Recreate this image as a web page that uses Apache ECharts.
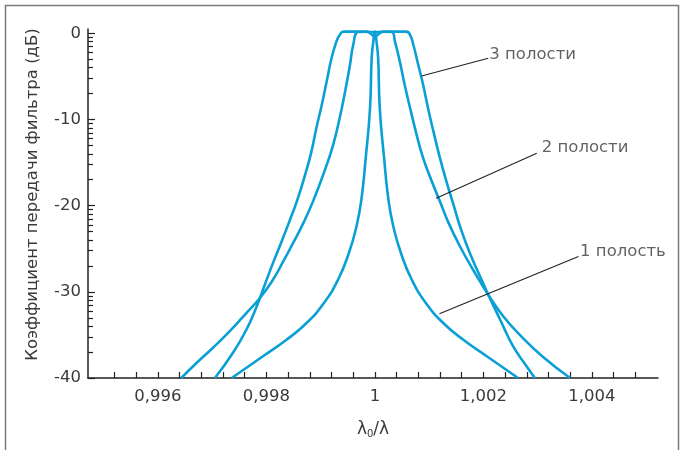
<!DOCTYPE html>
<html>
<head>
<meta charset="utf-8">
<script src="https://cdn.jsdelivr.net/npm/echarts@6/dist/echarts.min.js"></script>
<style>
html,body{margin:0;padding:0;background:#fff;}
#c{width:682px;height:450px;}
</style>
</head>
<body>
<div id="c"></div>
<script>
// ---- data (x = λ0/λ, y = dB) ----
var cavity1 = [
  [0.99736,-40],[0.99793,-37.5],[0.99837,-35.56],[0.99874,-33.62],[0.99906,-31.3],
  [0.99932,-28.6],[0.99952,-25.5],[0.99966,-22.42],[0.99975,-19.33],[0.99983,-14.49],
  [0.99991,-8.7],[0.99994,-2.9],[0.99997,-1.0],[1.0,0.2],[1.00003,-1.0],
  [1.00006,-2.9],[1.00009,-8.7],[1.00017,-14.49],[1.00025,-19.33],[1.00034,-22.42],
  [1.00048,-25.5],[1.00068,-28.6],[1.00094,-31.3],[1.00126,-33.62],[1.00163,-35.56],
  [1.00207,-37.5],[1.00264,-40]
];
var cavity2 = [
  [0.99643,-40],[0.99671,-38.26],[0.99701,-36.52],[0.99732,-34.6],[0.99763,-32.46],
  [0.99788,-30.72],[0.99812,-28.6],[0.99831,-26.48],[0.99849,-24.35],[0.99868,-22.03],
  [0.99887,-19.33],[0.99909,-15.65],[0.99923,-12.95],[0.99935,-9.86],[0.99945,-6.77],
  [0.99954,-3.68],[0.9996,-1.36],[0.99969,0.15],[0.99985,0.2],[1.0,-0.3],
  [1.00015,0.2],[1.00031,0.15],[1.00037,-0.97],[1.00046,-3.29],[1.00055,-5.99],
  [1.00065,-8.7],[1.00077,-11.79],[1.00089,-14.49],[1.00105,-17.2],[1.0012,-19.52],
  [1.00136,-22.03],[1.00157,-24.74],[1.00181,-27.44],[1.00209,-30.34],[1.00237,-32.86],
  [1.0027,-35.18],[1.00309,-37.5],[1.0036,-40]
];
var cavity3 = [
  [0.99705,-40],[0.99738,-37.1],[0.99763,-34.4],[0.99782,-31.7],[0.99797,-29.18],
  [0.99812,-26.67],[0.99828,-24.16],[0.99842,-21.88],[0.99857,-19.33],[0.99873,-16.05],
  [0.99883,-13.73],[0.99892,-11.01],[0.99902,-8.31],[0.99911,-5.61],[0.9992,-2.9],
  [0.99929,-0.97],[0.99935,-0.2],[0.99942,0.2],[0.9997,0.2],[1.0,0.15],
  [1.0003,0.2],[1.00058,0.2],[1.00065,-0.2],[1.00071,-1.36],[1.0008,-3.68],
  [1.00089,-5.99],[1.00098,-8.7],[1.00108,-11.41],[1.0012,-14.49],[1.00132,-17.2],
  [1.00145,-19.9],[1.00157,-22.42],[1.00175,-25.5],[1.00194,-28.22],[1.00209,-30.34],
  [1.00231,-33.24],[1.00255,-36.34],[1.0028,-38.66],[1.00295,-40]
];
// annotations: leader line start (on curve), end, and text anchor
var annotTexts = ['3 полости','2 полости','1 полость'];
var leaderStart = [[1.00086,-4.95],[1.00113,-19.13],[1.00119,-32.55]];
var leaderEnd   = [[1.00209,-2.9],[1.002985,-13.91],[1.003753,-25.9]];
var textAnchor  = [[1.00211,-2.43],[1.003077,-13.24],[1.003784,-25.3]];
// ticks
var xTickValues = [0.9952,0.9956,0.996,0.9964,0.9968,0.9972,0.9976,0.998,0.9984,0.9988,
  0.9992,0.9996,1,1.0004,1.0008,1.0012,1.0016,1.002,1.0024,1.0028,1.0032,1.0036,1.004,1.0044,1.0048];
var xLabelValues = [0.996,0.998,1,1.002,1.004];
var yMajorTicks = [0,-10,-20,-30,-40];
var yLabelValues = [0,-10,-20,-30,-40];
var yMinorTicks = [
  -0.458,-0.969,-1.549,-2.218,-3.010,-3.979,-5.229,-6.990,
  -10.458,-10.969,-11.549,-12.218,-13.010,-13.979,-15.229,-16.990,
  -20.458,-20.969,-21.549,-22.218,-23.010,-23.979,-25.229,-26.990,
  -30.458,-30.969,-31.549,-32.218,-33.010,-33.979,-35.229,-36.990
];

var FONT = '"DejaVu Sans", sans-serif';
var TXT = '#3a3a3a';
var CURVE = '#0aa0d6';
var chart = echarts.init(document.getElementById('c'), null, {renderer:'canvas'});

function curveSeries(name, data){
  return {
    name:name, type:'line', data:data, xAxisIndex:0, yAxisIndex:0,
    showSymbol:false, symbol:'none', smooth:0.5,
    lineStyle:{color:CURVE, width:2.6}, z:3, silent:true
  };
}

var leaderData = leaderStart.map(function(s,i){
  return [{coord:s},{coord:leaderEnd[i]}];
});

var option = {
  animation:false,
  backgroundColor:'#fff',
  graphic:[{
    type:'rect', shape:{x:5.5,y:5.5,width:673,height:460},
    style:{fill:'none', stroke:'#7a7a7a', lineWidth:1.5}, silent:true
  }],
  grid:{left:88, right:24, top:29, bottom:72, containLabel:false},
  xAxis:[{
    type:'value', min:0.99471, max:1.00522,
    name:'{a|λ}{s|0}{a|/λ}', nameLocation:'middle', nameGap:42,
    nameTextStyle:{rich:{
      a:{fontFamily:FONT, fontSize:17, color:TXT},
      s:{fontFamily:FONT, fontSize:10, color:TXT, padding:[9,0,0,0]}
    }},
    axisLine:{show:true, onZero:false, lineStyle:{color:'#222', width:1.5}},
    axisTick:{show:true, inside:true, length:6, customValues:xTickValues, lineStyle:{color:'#222', width:1.2}},
    axisLabel:{show:true, customValues:xLabelValues, margin:10, fontFamily:FONT, fontSize:16.5, color:TXT,
      formatter:function(v){ return String(+v.toFixed(4)).replace('.', ','); }},
    splitLine:{show:false}
  }],
  yAxis:[{
    type:'value', min:-40, max:0.5,
    name:'Коэффициент передачи фильтра (дБ)', nameLocation:'middle', nameGap:47,
    nameRotate:90,
    nameTextStyle:{fontFamily:FONT, fontSize:16.5, color:TXT, padding:[0,0,0,18]},
    axisLine:{show:true, onZero:false, lineStyle:{color:'#222', width:1.5}},
    axisTick:{show:true, inside:true, length:7, customValues:yMajorTicks, lineStyle:{color:'#222', width:1.2}},
    axisLabel:{show:true, customValues:yLabelValues, margin:7, fontFamily:FONT, fontSize:16.5, color:TXT,
      formatter:function(v){ return String(Math.round(v)); }},
    splitLine:{show:false}
  },{
    type:'value', min:-40, max:0.5, position:'left',
    axisLine:{show:false},
    axisTick:{show:true, inside:true, length:5, customValues:yMinorTicks, lineStyle:{color:'#222', width:1.2}},
    axisLabel:{show:false},
    splitLine:{show:false}
  }],
  series:[
    curveSeries('1 полость', cavity1),
    curveSeries('2 полости', cavity2),
    curveSeries('3 полости', cavity3),
    {
      type:'line', data:[], xAxisIndex:0, yAxisIndex:0, silent:true,
      markLine:{silent:true, symbol:['none','none'], label:{show:false},
        lineStyle:{color:'#222', width:1.1, type:'solid'}, emphasis:{disabled:true},
        data:leaderData, animation:false}
    },
    {
      type:'scatter', xAxisIndex:0, yAxisIndex:0, silent:true, symbolSize:0,
      data:textAnchor.map(function(p,i){ return {value:p, name:annotTexts[i]}; }),
      label:{show:true, position:'inside', align:'left', verticalAlign:'middle',
        formatter:function(p){ return p.name; },
        fontFamily:FONT, fontSize:16.5, color:TXT},
      z:5
    }
  ]
};
chart.setOption(option);
</script>
</body>
</html>
